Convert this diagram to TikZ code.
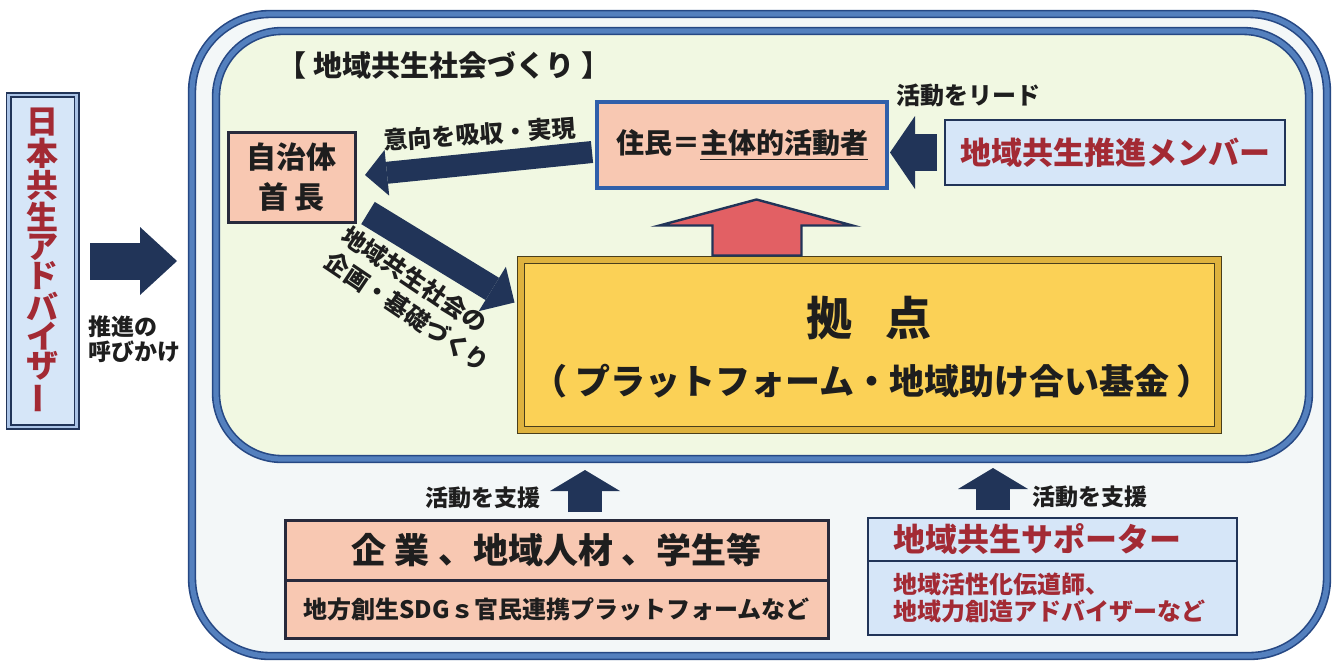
\documentclass[tikz,border=0pt]{standalone}
\usepackage{fontspec}
\setmainfont{Noto Sans CJK JP}
\usepackage{graphicx}
\usetikzlibrary{arrows.meta,calc}

\definecolor{navy}{RGB}{33,52,88}
\definecolor{textdark}{RGB}{30,30,30}
\definecolor{boxedge}{RGB}{40,42,60}
\definecolor{juminblue}{RGB}{48,96,170}
\definecolor{salmon}{RGB}{248,200,178}
\definecolor{paleblue}{RGB}{214,230,248}
\definecolor{advred}{RGB}{163,42,52}
\definecolor{advline}{RGB}{170,195,230}
\definecolor{bandedge}{RGB}{38,72,132}
\definecolor{bandmid}{RGB}{84,128,190}
\definecolor{outerbg}{RGB}{243,247,248}
\definecolor{innerbg}{RGB}{241,248,226}
\definecolor{kyotenfill}{RGB}{251,209,86}
\definecolor{kyotenedge}{RGB}{72,62,28}
\definecolor{kyotenband}{RGB}{222,178,62}
\definecolor{redfill}{RGB}{226,96,100}

\newcommand{\setsize}[2]{\fontsize{#1}{#2}\selectfont\bfseries}

\tikzset{
  band/.style={draw=bandedge, double=bandmid, line width=0.8pt, double distance=2.6pt},
  salmonbox/.style={draw=boxedge, fill=salmon, line width=1.5pt, inner sep=0pt, outer sep=0pt},
  bluebox/.style={draw=navy, fill=paleblue, line width=1.3pt, inner sep=0pt, outer sep=0pt, text=advred},
  advbox/.style={draw=navy, double=advline, line width=0.9pt, double distance=1.2pt, fill=paleblue,
    inner sep=0pt, align=center, text=advred},
  kyotenbox/.style={draw=kyotenedge, double=kyotenband, line width=0.5pt, double distance=3pt, fill=kyotenfill},
  navyarrow/.style n args={3}{draw=navy, line width=#1, -{Triangle[length=#2, width=#3, line width=0pt]}},
  redarrow/.style={draw=navy, fill=redfill, line width=1.2pt, line join=miter},
  tag/.style={inner sep=0pt},
  every node/.style={text=textdark},
}

\begin{document}
\begin{tikzpicture}[x=0.5pt, y=-0.5pt]
  \useasboundingbox (0,0) rectangle (1338,661);
  \fill[white] (0,0) rectangle (1338,661);

  % frames
  \draw[band, fill=outerbg, rounded corners=39pt] (192,14) rectangle (1327,656);
  \draw[band, fill=innerbg, rounded corners=33pt] (216,31) rectangle (1309,459);

  % adviser
  \node[advbox, minimum width=34pt, minimum height=166pt, font=\setsize{16pt}{14.5pt}] (adv) at (42.5,261)
    {日\\本\\共\\生\\ア\\ド\\バ\\イ\\ザ\\\rotatebox[origin=c]{90}{ー}};
  \coordinate (pushtail) at (90,261);
  \coordinate (pushtip) at (177,261);
  \draw[navyarrow={18.5pt}{18.5pt}{34pt}] (pushtail) -- (pushtip);
  \node[tag, anchor=west, align=left, font=\setsize{11.5pt}{12.5pt}] (pushlabel) at (88,339) {推進の\\呼びかけ};

  % community
  \node[tag, font=\setsize{14.5pt}{14.5pt}] (title) at (444,65) {【 地域共生社会づくり 】};
  \node[salmonbox, minimum width=63.5pt, minimum height=45pt, align=center, font=\setsize{15pt}{20pt}] (jichitai) at (291.5,177) {自治体\\首 長};
  \node[salmonbox, draw=juminblue, line width=2pt, minimum width=145pt, minimum height=43pt, font=\setsize{14pt}{14pt}] (jumin) at (742,145) {住民＝\underline{主体的活動者}};
  \node[bluebox, minimum width=170pt, minimum height=32.5pt, font=\setsize{15.5pt}{15.5pt}] (member) at (1115,152.5) {地域共生推進メンバー};
  \node[tag, font=\setsize{12pt}{12pt}] (leadlabel) at (968,95) {活動をリード};
  \draw[navyarrow={18.5pt}{12.5pt}{36.5pt}] ($(member.west)+(-8,0)$) -- ($(jumin.east)+(3,7.5)$);

  % base
  \node[kyotenbox, minimum width=348.5pt, minimum height=85pt] (kyoten) at (869.5,345) {};
  \node[tag, font=\setsize{23pt}{23pt}] (kyotenname) at (869,318) {拠\hspace{0.7em}点};
  \node[tag, font=\setsize{17.5pt}{17.5pt}] (kyotensub) at (872,381) {（ プラットフォーム・地域助け合い基金 ）};
  \draw[redarrow] ($(kyoten.north west)+(192,-4)$) -- ++(0,-30) -- ++(-53,0) -- ++(97,-26)
    -- ++(96,26) -- ++(-51,0) -- ++(0,30) -- cycle;

  % mayor arrows
  \draw[navyarrow={11pt}{11pt}{23pt}] ($(jumin.west)+(-5,7)$) -- ($(jichitai.east)+(10,-2)$);
  \node[tag, rotate=4, font=\setsize{12pt}{12pt}] (ikoulabel) at (480,134) {意向を吸収・実現};
  \draw[navyarrow={13pt}{13pt}{26pt}] ($(jichitai.south east)+(13,-9)$) -- ($(kyoten.north west)+(-6,43)$);
  \node[tag, rotate=-34, align=left, font=\setsize{12pt}{15.5pt}] (kikakulabel) at (416,299) {地域共生社会の\\企画・基礎づくり};

  % supporters
  \node[salmonbox, minimum width=271.5pt, minimum height=30pt, font=\setsize{17.5pt}{17.5pt}] (kigyo) at (556.5,550) {企 業 、地域人材 、学生等};
  \node[salmonbox, minimum width=271.5pt, minimum height=29pt, font=\setsize{12pt}{12pt}] (kigyosub) at (556.5,609) {地方創生SDGｓ官民連携プラットフォームなど};
  \node[bluebox, text width=159.5pt, inner xsep=12.5pt, minimum height=21.5pt, align=left, font=\setsize{16pt}{16pt}] (supporter) at (1052.5,539.5) {地域共生サポーター};
  \node[bluebox, text width=159.5pt, inner xsep=12.5pt, minimum height=37pt, align=left, font=\setsize{12pt}{13.5pt}] (supportersub) at (1052.5,598) {地域活性化伝道師、\\地域力創造アドバイザーなど};

  \draw[navyarrow={17pt}{10.5pt}{35pt}] ($(kigyo.north)+(28.5,-8)$) -- ($(kigyo.north)+(28.5,-50)$);
  \node[tag, font=\setsize{11.5pt}{11.5pt}] (supportlabela) at (483,498) {活動を支援};
  \draw[navyarrow={17pt}{10.5pt}{35pt}] ($(supporter.north)+(-59.5,-8)$) -- ($(supporter.north)+(-59.5,-50)$);
  \node[tag, font=\setsize{11.5pt}{11.5pt}] (supportlabelb) at (1090,497) {活動を支援};
\end{tikzpicture}
\end{document}
